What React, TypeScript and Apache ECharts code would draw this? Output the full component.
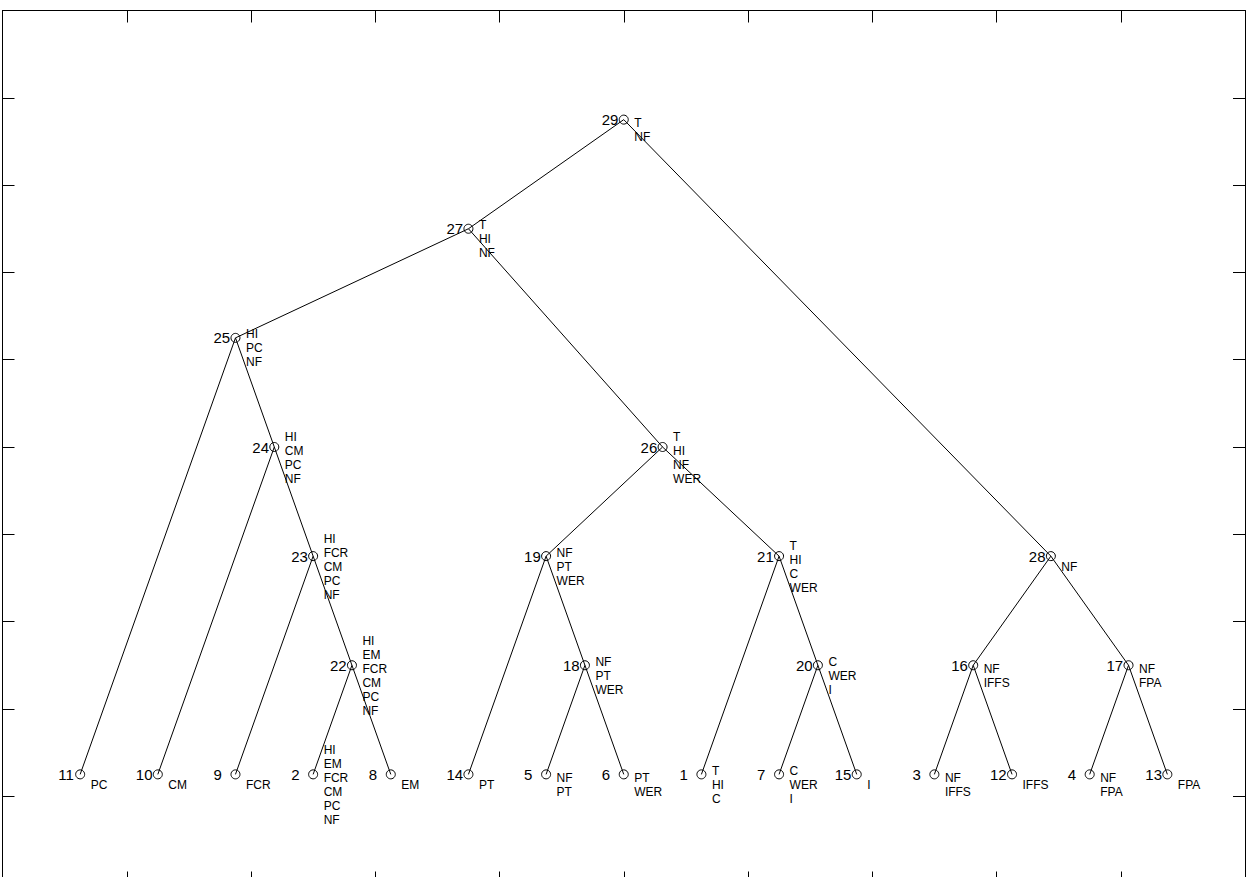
import React, { useEffect, useRef } from "react";
import * as echarts from "echarts";

// Node ids 1..29 (MATLAB treeplot style parent vector)
const nodeIds = [
  1, 2, 3, 4, 5, 6, 7, 8, 9, 10, 11, 12, 13, 14, 15,
  16, 17, 18, 19, 20, 21, 22, 23, 24, 25, 26, 27, 28, 29,
];
const parents = [
  21, 22, 16, 17, 18, 18, 20, 22, 23, 24, 25, 16, 17, 19, 20,
  28, 28, 19, 26, 21, 26, 23, 24, 25, 27, 27, 29, 29, 0,
];
// node positions in axis units (0..1)
const nodeX = [
  0.5625, 0.25, 0.75, 0.875, 0.4375, 0.5, 0.625, 0.3125, 0.1875, 0.125, 0.0625, 0.8125, 0.9375, 0.375, 0.6875,
  0.78125, 0.90625, 0.46875, 0.4375, 0.65625, 0.625, 0.28125, 0.25, 0.21875, 0.1875, 0.53125, 0.375, 0.84375, 0.5,
];
const nodeY = [
  0.125, 0.125, 0.125, 0.125, 0.125, 0.125, 0.125, 0.125, 0.125, 0.125, 0.125, 0.125, 0.125, 0.125, 0.125,
  0.25, 0.25, 0.25, 0.375, 0.25, 0.375, 0.25, 0.375, 0.5, 0.625, 0.5, 0.75, 0.375, 0.875,
];
const nodeFeatures = [
  "T\nHI\nC",
  "HI\nEM\nFCR\nCM\nPC\nNF",
  "NF\nIFFS",
  "NF\nFPA",
  "NF\nPT",
  "PT\nWER",
  "C\nWER\nI",
  "EM",
  "FCR",
  "CM",
  "PC",
  "IFFS",
  "FPA",
  "PT",
  "I",
  "NF\nIFFS",
  "NF\nFPA",
  "NF\nPT\nWER",
  "NF\nPT\nWER",
  "C\nWER\nI",
  "T\nHI\nC\nWER",
  "HI\nEM\nFCR\nCM\nPC\nNF",
  "HI\nFCR\nCM\nPC\nNF",
  "HI\nCM\nPC\nNF",
  "HI\nPC\nNF",
  "T\nHI\nNF\nWER",
  "T\nHI\nNF",
  "NF",
  "T\nNF",
];
const tickValues = [0, 0.1, 0.2, 0.3, 0.4, 0.5, 0.6, 0.7, 0.8, 0.9, 1];

const FONT = "'Liberation Sans', Arial, Helvetica, sans-serif";

function makeAxis(position: string) {
  return {
    type: "value",
    position,
    min: tickValues[0],
    max: tickValues[tickValues.length - 1],
    interval: tickValues[1] - tickValues[0],
    axisLine: { show: true, onZero: false, lineStyle: { color: "#000", width: 1 } },
    axisTick: { show: true, inside: true, length: 12, lineStyle: { color: "#000", width: 1 } },
    axisLabel: { show: false },
    splitLine: { show: false },
  };
}

export default function App() {
  const ref = useRef<HTMLDivElement>(null);
  useEffect(() => {
    document.body.style.margin = "0";
    document.body.style.overflow = "hidden";
    document.documentElement.style.overflow = "hidden";
    if (!ref.current) return;
    const chart = echarts.init(ref.current, null, { renderer: "svg" });

    const indexOf = (id: number) => nodeIds.indexOf(id);
    const edges = nodeIds
      .map((id, i) => {
        const p = parents[i];
        if (!p) return null;
        const j = indexOf(p);
        return { coords: [[nodeX[j], nodeY[j]], [nodeX[i], nodeY[i]]] };
      })
      .filter(Boolean);

    const nodeData = nodeIds.map((id, i) => [nodeX[i], nodeY[i], id]);
    const featData = nodeIds.map((id, i) => [nodeX[i], nodeY[i], nodeFeatures[i]]);

    chart.setOption({
      animation: false,
      backgroundColor: "#fff",
      grid: { left: 2.5, right: 4, top: 10.5, bottom: 0.5, containLabel: false },
      xAxis: [makeAxis("bottom"), makeAxis("top")],
      yAxis: [makeAxis("left"), makeAxis("right")],
      series: [
        {
          type: "lines",
          coordinateSystem: "cartesian2d",
          xAxisIndex: 0,
          yAxisIndex: 0,
          polyline: false,
          silent: true,
          lineStyle: { color: "#000", width: 1, opacity: 1 },
          data: edges,
          z: 2,
        },
        {
          type: "scatter",
          xAxisIndex: 0,
          yAxisIndex: 0,
          symbol: "circle",
          symbolSize: 9,
          silent: true,
          itemStyle: { color: "rgba(0,0,0,0)", borderColor: "#000", borderWidth: 1, opacity: 1 },
          label: {
            show: true,
            position: "inside",
            offset: [-22, 0],
            align: "left",
            verticalAlign: "middle",
            color: "#000",
            fontSize: 15,
            fontFamily: FONT,
            textBorderWidth: 0,
            formatter: (p: any) => String(p.data[2]),
          },
          data: nodeData,
          z: 3,
        },
        {
          type: "scatter",
          xAxisIndex: 0,
          yAxisIndex: 0,
          symbol: "circle",
          symbolSize: 9,
          silent: true,
          itemStyle: { color: "rgba(0,0,0,0)", borderWidth: 0, opacity: 1 },
          label: {
            show: true,
            position: "inside",
            offset: [10.5, 10.5],
            align: "left",
            verticalAlign: "middle",
            color: "#000",
            fontSize: 12,
            lineHeight: 14,
            fontFamily: FONT,
            textBorderWidth: 0,
            formatter: (p: any) => String(p.data[2]),
          },
          data: featData,
          z: 4,
        },
      ],
    });
    return () => chart.dispose();
  }, []);
  return <div ref={ref} style={{ width: 1249, height: 884 }} />;
}
